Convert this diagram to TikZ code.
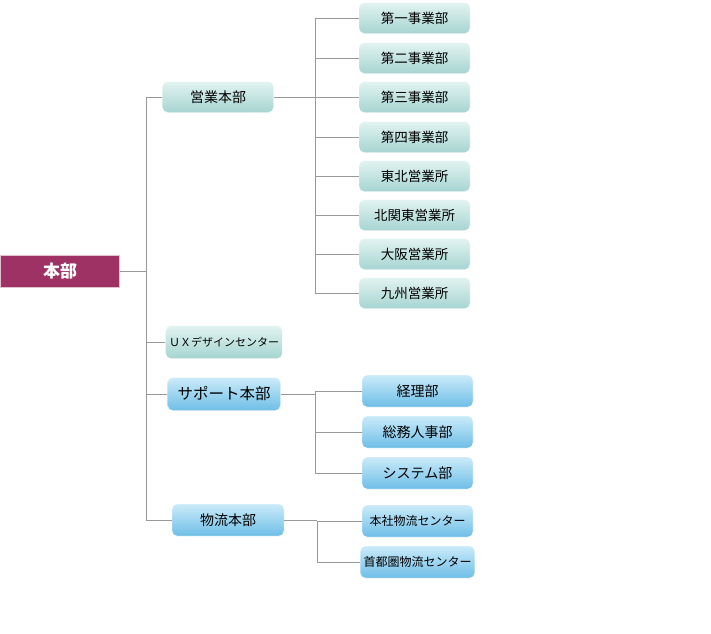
\documentclass[tikz,border=0pt]{standalone}
\usepackage{fontspec}
\newfontfamily\cjk{Noto Sans CJK JP}
\definecolor{tt}{HTML}{E2F3F1}
\definecolor{tb}{HTML}{A6D5D1}
\definecolor{bt}{HTML}{CBEBF9}
\definecolor{bb}{HTML}{6EBEE7}
\definecolor{hq}{HTML}{9E3264}
\begin{document}
\begin{tikzpicture}[x=1pt,y=-1pt,
  teal/.style={draw=white,rounded corners=5pt,top color=tt,bottom color=tb,minimum width=111pt,minimum height=31pt,font=\cjk\fontsize{13.5}{15}\selectfont},
  blu/.style={draw=white,rounded corners=5pt,top color=bt,bottom color=bb,minimum width=111pt,minimum height=32pt,font=\cjk\fontsize{14}{16}\selectfont},
  ln/.style={draw=gray!80,line width=0.9pt}]
\useasboundingbox (0,0) rectangle (711,633);
\node[draw=white!70!hq,line width=1pt,fill=hq,text=white,minimum width=119pt,minimum height=32pt,font=\cjk\bfseries\fontsize{17}{19}\selectfont] (hq) at (60,271) {本部};
\node[teal,font=\cjk\fontsize{14}{16}\selectfont] (eig) at (218,97) {営業本部};
\node[teal,font=\cjk\fontsize{11}{12}\selectfont,minimum width=112pt,minimum height=33pt] (ux) at (224,342) {ＵＸデザインセンター};
\node[blu,minimum width=113pt,minimum height=33pt,font=\cjk\fontsize{15.5}{17}\selectfont] (sup) at (224,394) {サポート本部};
\node[blu,minimum width=112pt] (buts) at (228,520) {物流本部};
\foreach \n/\y/\t in {a/18/第一事業部,b/58/第二事業部,c/97/第三事業部,d/137/第四事業部,e/176/東北営業所,f/215/北関東営業所,g/254/大阪営業所,h/293/九州営業所}
  \node[teal] (\n) at (414.5,\y) {\t};
\foreach \n/\y/\t in {k/391/経理部,l/432/総務人事部,m/473/システム部}
  \node[blu] (\n) at (417.5,\y) {\t};
\node[blu,font=\cjk\fontsize{12}{13}\selectfont] (n) at (417.5,521) {本社物流センター};
\node[blu,font=\cjk\fontsize{12}{13}\selectfont] (o) at (417.5,562) {首都圏物流センター};
\coordinate (t1) at (146,97); \coordinate (t2) at (146,520);
\coordinate (v1) at (315,18); \coordinate (v2) at (315,293);
\coordinate (w1) at (315,391); \coordinate (w2) at (315,473);
\coordinate (x1) at (317,521); \coordinate (x2) at (317,562);
\draw[ln] (t1) -- (t2);
\draw[ln] (hq.east) -- (hq.east -| t1);
\draw[ln] (eig.west) -- (eig.west -| t1);
\draw[ln] (ux.west) -- (ux.west -| t1);
\draw[ln] (sup.west) -- (sup.west -| t1);
\draw[ln] (buts.west) -- (buts.west -| t1);
\draw[ln] (v1) -- (v2); \draw[ln] (eig.east) -- (eig.east -| v1);
\foreach \n in {a,b,c,d,e,f,g,h} \draw[ln] (\n.west) -- (\n.west -| v1);
\draw[ln] (w1) -- (w2); \draw[ln] (sup.east) -- (sup.east -| w1);
\foreach \n in {k,l,m} \draw[ln] (\n.west) -- (\n.west -| w1);
\draw[ln] (x1) -- (x2); \draw[ln] (buts.east) -- (buts.east -| x1);
\foreach \n in {n,o} \draw[ln] (\n.west) -- (\n.west -| x1);
\end{tikzpicture}
\end{document}
